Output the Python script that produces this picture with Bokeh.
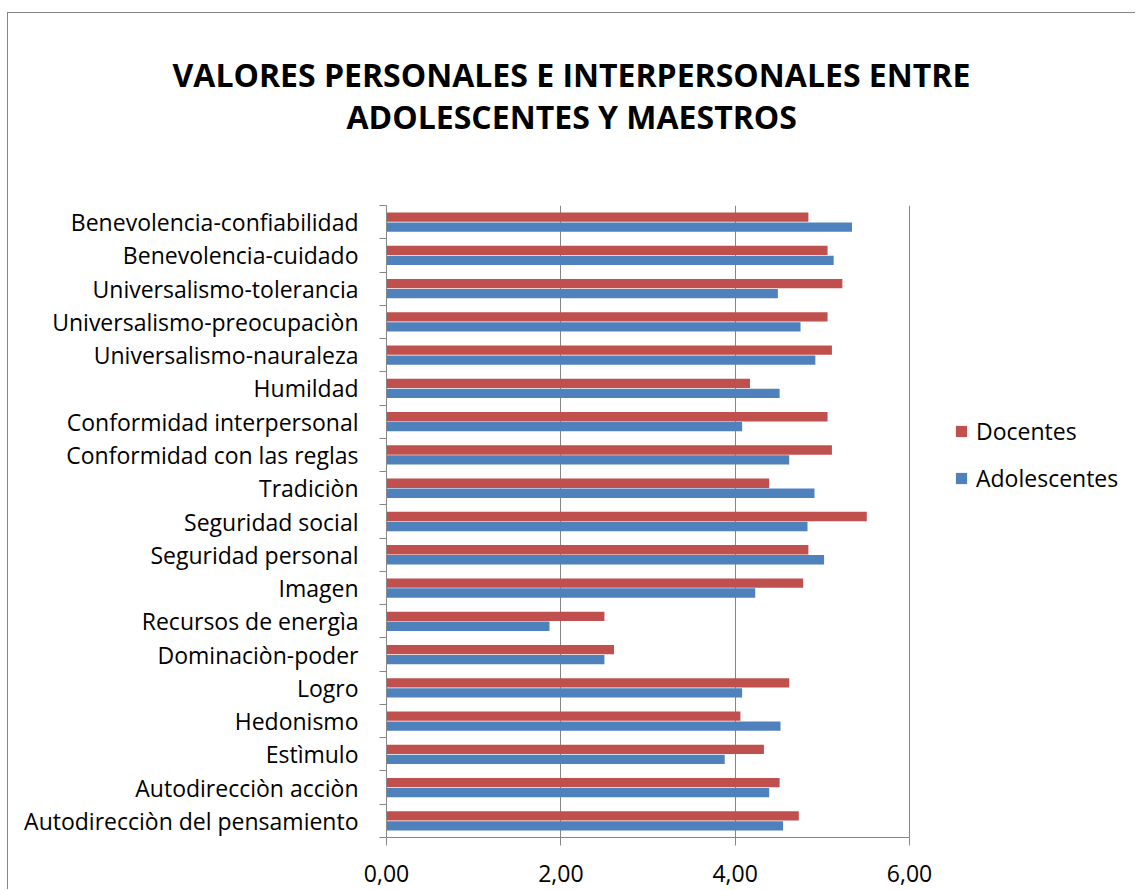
from bokeh.plotting import figure
from bokeh.models import (Range1d, ColumnDataSource, FixedTicker, CustomJSTickFormatter,
                          Legend, LegendItem, Title)
from bokeh.transform import dodge
from bokeh.embed import file_html
from bokeh.resources import INLINE

# Categories listed bottom to top (as in the source spreadsheet)
categories = [
    "Autodirecciòn del pensamiento",
    "Autodirecciòn acciòn",
    "Estìmulo",
    "Hedonismo",
    "Logro",
    "Dominaciòn-poder",
    "Recursos de energìa",
    "Imagen",
    "Seguridad personal",
    "Seguridad social",
    "Tradiciòn",
    "Conformidad con las reglas",
    "Conformidad interpersonal",
    "Humildad",
    "Universalismo-nauraleza",
    "Universalismo-preocupaciòn",
    "Universalismo-tolerancia",
    "Benevolencia-cuidado",
    "Benevolencia-confiabilidad",
]
adolescentes = [4.55, 4.39, 3.88, 4.52, 4.08, 2.50, 1.87, 4.23, 5.02, 4.83,
                4.91, 4.62, 4.08, 4.51, 4.92, 4.75, 4.49, 5.13, 5.34]
docentes = [4.73, 4.51, 4.33, 4.06, 4.62, 2.61, 2.50, 4.78, 4.84, 5.51,
            4.39, 5.11, 5.06, 4.17, 5.11, 5.06, 5.23, 5.06, 4.84]
x_ticks = [0, 2, 4, 6]
grid_ticks = [2, 4, 6]
series_names = ["Docentes", "Adolescentes"]
title_lines = ["VALORES PERSONALES E INTERPERSONALES ENTRE", "ADOLESCENTES Y MAESTROS"]

FONT = "Open Sans"
GRAY = "#868686"
RED = "#C0504D"
BLUE = "#4F81BD"

W, H = 1128, 877
LEFT, TOP, BOTTOM = 378, 192, 53
X_AXIS_MAX = 6
AXIS_PX = 523  # pixel length of the 0..6 axis
# frame extends to the right edge so the legend can sit inside it; axis is bounded to 0..6
X_VIEW_END = X_AXIS_MAX * (W - LEFT) / AXIS_PX

pos = [i + 0.5 for i in range(len(categories))]
source = ColumnDataSource(dict(cat=categories, pos=pos, ado=adolescentes, doc=docentes))

p = figure(width=W, height=H, title=None,
           x_range=Range1d(0, X_VIEW_END), y_range=Range1d(0, len(categories)),
           output_backend="svg", toolbar_location=None,
           min_border_left=LEFT, min_border_right=0, min_border_top=TOP,
           min_border_bottom=BOTTOM, outline_line_color=None)
p.background_fill_color = "white"
p.border_fill_color = "white"

r_doc = p.hbar(y=dodge("pos", 0.15), right="doc", left=0, height=0.28,
               source=source, fill_color=RED, line_color=None)
r_ado = p.hbar(y=dodge("pos", -0.15), right="ado", left=0, height=0.28,
               source=source, fill_color=BLUE, line_color=None)

# x axis
xa = p.xaxis[0]
xa.bounds = (0, X_AXIS_MAX)
xa.ticker = FixedTicker(ticks=x_ticks)
xa.formatter = CustomJSTickFormatter(code="return tick.toFixed(2).replace('.', ',');")
xa.axis_line_color = GRAY
xa.major_tick_line_color = GRAY
xa.major_tick_out = 8
xa.major_tick_in = 0
xa.minor_tick_line_color = None
xa.major_label_text_font = FONT
xa.major_label_text_font_size = "23px"
xa.major_label_text_color = "black"
xa.major_label_standoff = 19

# y axis
ya = p.yaxis[0]
ya.ticker = FixedTicker(ticks=pos, minor_ticks=list(range(len(categories) + 1)))
ya.formatter = CustomJSTickFormatter(args=dict(labels=categories),
                                     code="return labels[Math.floor(tick)];")
ya.axis_line_color = GRAY
ya.major_tick_line_color = None
ya.major_tick_out = 0
ya.major_tick_in = 0
ya.minor_tick_line_color = GRAY
ya.minor_tick_out = 7
ya.minor_tick_in = 0
ya.major_label_text_font = FONT
ya.major_label_text_font_size = "23px"
ya.major_label_text_color = "black"
ya.major_label_standoff = 21

p.xgrid.ticker = FixedTicker(ticks=grid_ticks)
p.xgrid.grid_line_color = GRAY
p.ygrid.grid_line_color = None

# Title: spacer (closest to frame), then line 2, then line 1
p.add_layout(Title(text=" ", text_font=FONT, text_font_size="10px", standoff=52), "above")
p.add_layout(Title(text=title_lines[1], align="left", offset=-40, standoff=0,
                   text_font=FONT, text_font_size="32px", text_font_style="bold",
                   text_color="black"), "above")
p.add_layout(Title(text=title_lines[0], align="left", offset=-214, standoff=-6,
                   text_font=FONT, text_font_size="32px", text_font_style="bold",
                   text_color="black"), "above")

legend = Legend(items=[LegendItem(label=series_names[0], renderers=[r_doc]),
                       LegendItem(label=series_names[1], renderers=[r_ado])],
                location=(568, 343), margin=0, padding=10, spacing=15,
                glyph_width=14, glyph_height=14, label_standoff=8,
                label_text_font=FONT, label_text_font_size="23px",
                label_text_color="black", border_line_color=None,
                background_fill_alpha=0)
p.add_layout(legend, "center")

# chart-area border (top and left edges visible in the reference)
p.styles = {"border-top": "1px solid #868686", "border-left": "1px solid #868686",
            "margin-left": "7px", "margin-top": "12px"}

open("out.html", "w").write(file_html(p, INLINE))
